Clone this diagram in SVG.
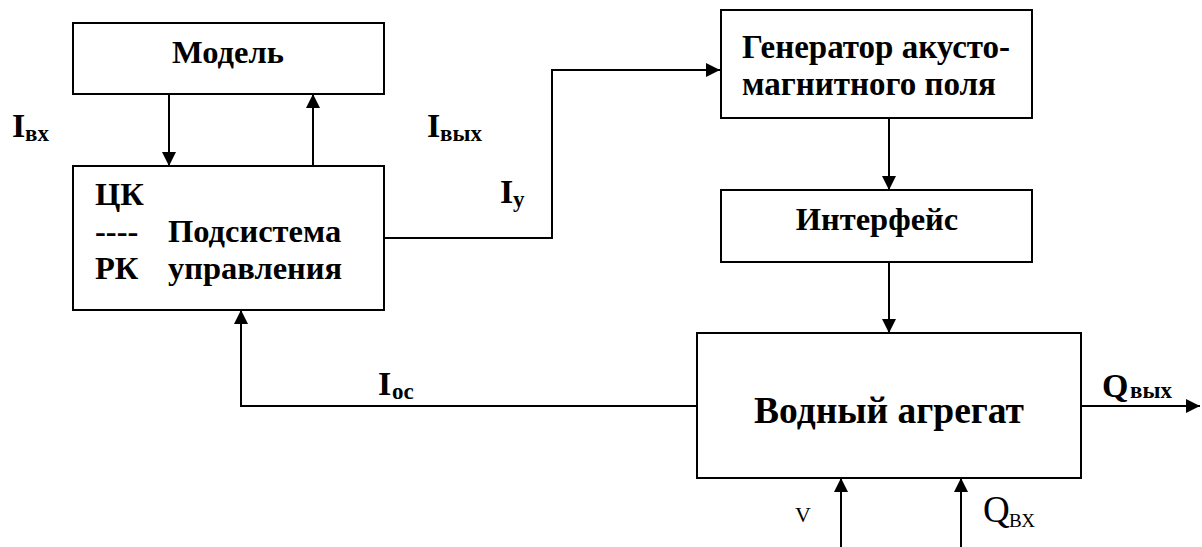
<svg xmlns="http://www.w3.org/2000/svg" width="1202" height="547" viewBox="0 0 1202 547">
  <defs>
    <marker id="arrow" viewBox="0 0 14 14" refX="14" refY="7" markerWidth="14" markerHeight="14" markerUnits="userSpaceOnUse" orient="auto">
      <path d="M0,0 L14,7 L0,14 Z" fill="#000"/>
    </marker>
    <style>
      .box { fill: #fff; stroke: #000; stroke-width: 2; }
      .wire { fill: none; stroke: #000; stroke-width: 2; }
      .arr { marker-end: url(#arrow); }
      text { font-family: "Liberation Serif", "Nimbus Roman", "Times New Roman", serif; fill: #000; }
      .t { font-size: 32.5px; font-weight: bold; }
      .gen { font-size: 33px; }
      .big { font-size: 37.5px; }
      .lbl { font-size: 34px; font-weight: bold; }
      .sub { font-size: 23px; }
      .reg { font-weight: normal; }
      .mid { text-anchor: middle; }
    </style>
  </defs>
  <rect width="1202" height="547" fill="#fff"/>

  <!-- connectors -->
  <g id="connectors">
    <line class="wire arr" x1="169" y1="94" x2="169" y2="166"/>
    <line class="wire arr" x1="313" y1="166" x2="313" y2="94"/>
    <path class="wire arr" d="M384,238 H552 V70 H720"/>
    <line class="wire arr" x1="889" y1="118" x2="889" y2="190"/>
    <line class="wire arr" x1="889" y1="262" x2="889" y2="333"/>
    <path class="wire arr" d="M697,406 H241 V310"/>
    <line class="wire arr" x1="1081" y1="406" x2="1200" y2="406"/>
    <line class="wire arr" x1="841" y1="547" x2="841" y2="478"/>
    <line class="wire arr" x1="961" y1="547" x2="961" y2="478"/>
  </g>

  <!-- nodes -->
  <g id="model">
    <rect class="box" x="73" y="23" width="311" height="71"/>
    <text class="t mid" x="228" y="63">Модель</text>
  </g>

  <g id="control">
    <rect class="box" x="73" y="166" width="311" height="144"/>
    <text class="t" x="95" y="205">ЦК</text>
    <text class="t" x="95" y="242">----</text>
    <text class="t" x="168" y="242">Подсистема</text>
    <text class="t" x="95" y="279">РК</text>
    <text class="t" x="168" y="279">управления</text>
  </g>

  <g id="generator">
    <rect class="box" x="721" y="10" width="311" height="108"/>
    <text class="t gen" x="742" y="58">Генератор акусто-</text>
    <text class="t gen" x="742" y="95">магнитного поля</text>
  </g>

  <g id="interface">
    <rect class="box" x="721" y="190" width="311" height="72"/>
    <text class="t mid" x="877" y="230">Интерфейс</text>
  </g>

  <g id="water">
    <rect class="box" x="697" y="333" width="384" height="145"/>
    <text class="t big mid" x="889" y="423">Водный агрегат</text>
  </g>

  <!-- signal labels -->
  <g id="labels">
    <text class="lbl" x="12" y="137">I</text>
    <text class="lbl sub" x="25" y="141">вх</text>
    <text class="lbl" x="427" y="137">I</text>
    <text class="lbl sub" x="440" y="141">вых</text>
    <text class="lbl" x="500" y="203">I</text>
    <text class="lbl sub" x="513" y="207">у</text>
    <text class="lbl" x="378" y="395">I</text>
    <text class="lbl sub" x="392" y="399">ос</text>
    <text class="lbl" x="1102" y="397" font-size="37">Q</text>
    <text class="lbl sub" x="1130" y="398">вых</text>
    <text class="reg" x="795" y="522" font-size="22">V</text>
    <text class="reg" x="983" y="522" font-size="37">Q</text>
    <text class="reg" x="1009" y="527" font-size="19">ВХ</text>
  </g>
</svg>
